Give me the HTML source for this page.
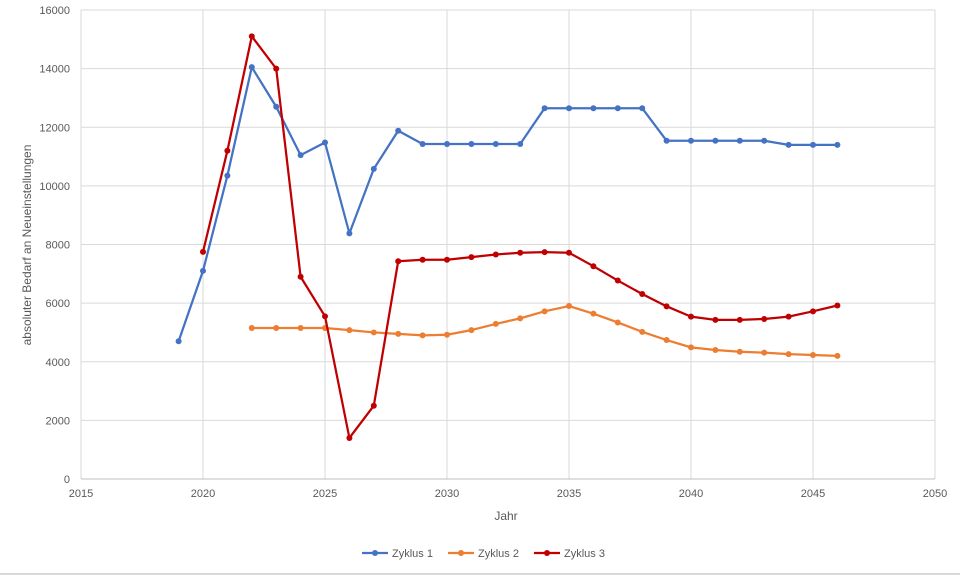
<!DOCTYPE html>
<html><head><meta charset="utf-8"><style>
html,body{margin:0;padding:0;background:#fff;width:960px;height:575px;overflow:hidden}
text{font-family:"Liberation Sans",sans-serif;fill:#595959}
</style></head><body>
<svg id="s" width="960" height="575" xmlns="http://www.w3.org/2000/svg"></svg>
<script>
const s=document.getElementById('s');
const X0=81,X1=935,Y0=479,Y1=10;
const px=y=>X0+(y-2015)*(X1-X0)/35, py=v=>Y0-v*(Y0-Y1)/16000;
let h='';
for(let v=2000;v<=16000;v+=2000)h+=`<line x1="${X0}" x2="${X1}" y1="${py(v)}" y2="${py(v)}" stroke="#d9d9d9"/>`;
for(let y=2020;y<=2050;y+=5)h+=`<line x1="${px(y)}" x2="${px(y)}" y1="${Y1}" y2="${Y0}" stroke="#d9d9d9"/>`;
h+=`<line x1="${X0}" x2="${X0}" y1="${Y1}" y2="${Y0}" stroke="#d9d9d9"/>`;
h+=`<line x1="${X0}" x2="${X1}" y1="${Y0}" y2="${Y0}" stroke="#bfbfbf"/>`;
for(let v=0;v<=16000;v+=2000)h+=`<text x="${X0-11}" y="${py(v)+4}" font-size="11" text-anchor="end">${v}</text>`;
for(let y=2015;y<=2050;y+=5)h+=`<text x="${px(y)}" y="497" font-size="11" text-anchor="middle">${y}</text>`;
h+=`<text x="506" y="520" font-size="12" text-anchor="middle">Jahr</text>`;
h+=`<text transform="translate(31,245) rotate(-90)" font-size="12" text-anchor="middle">absoluter Bedarf an Neueinstellungen</text>`;
const S=[
['#4472c4',2019,[4700,7100,10350,14050,12700,11050,11480,8380,10580,11880,11430,11430,11430,11430,11430,12650,12650,12650,12650,12650,11540,11540,11540,11540,11540,11400,11400,11400]],
['#ed7d31',2022,[5150,5150,5150,5150,5080,5000,4950,4900,4920,5080,5290,5480,5720,5900,5640,5340,5020,4740,4490,4400,4340,4310,4260,4230,4200]],
['#c00000',2020,[7750,11200,15100,14000,6900,5550,1400,2500,7430,7480,7480,7570,7660,7720,7740,7720,7260,6770,6310,5890,5540,5430,5430,5460,5540,5720,5920]]];
for(const [c,st,d] of S){
 const pts=d.map((v,i)=>[px(st+i),py(v)]);
 h+=`<polyline fill="none" stroke="${c}" stroke-width="2.25" stroke-linejoin="round" points="${pts.map(p=>p.join(',')).join(' ')}"/>`;
 for(const p of pts)h+=`<circle cx="${p[0]}" cy="${p[1]}" r="3" fill="${c}"/>`;
}
const L=[['#4472c4','Zyklus 1',362],['#ed7d31','Zyklus 2',448],['#c00000','Zyklus 3',534]];
for(const [c,t,x] of L){h+=`<line x1="${x}" x2="${x+26}" y1="553" y2="553" stroke="${c}" stroke-width="2.25"/><circle cx="${x+13}" cy="553" r="3" fill="${c}"/><text x="${x+30}" y="557" font-size="11">${t}</text>`;}
h+=`<line x1="0" x2="960" y1="574" y2="574" stroke="#d9d9d9" stroke-width="2"/>`;
s.innerHTML=h;
</script>
</body></html>
